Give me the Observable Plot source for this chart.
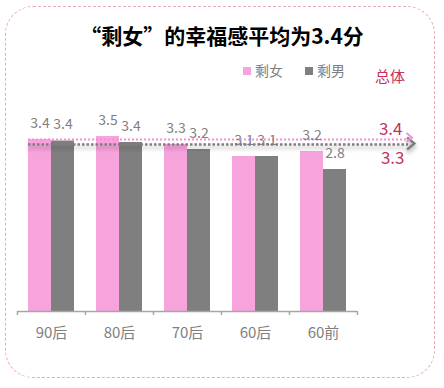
<!DOCTYPE html>
<html><head><meta charset="utf-8">
<script src="https://cdn.jsdelivr.net/npm/d3@7"></script>
<script src="https://cdn.jsdelivr.net/npm/@observablehq/plot@0.6"></script>
<style>
body{margin:0;background:#fff;font-family:"Noto Sans CJK SC","Noto Sans",sans-serif;}
#wrap{position:relative;width:444px;height:388px;overflow:hidden;background:#fff;}
#border{position:absolute;left:5px;top:6px;width:428px;height:370px;border:1.5px dashed #eba8c3;border-radius:28px;}
#title{position:absolute;left:0;top:20px;width:444px;text-align:center;font-size:21px;font-weight:bold;color:#000;line-height:30px;}
.lg{position:absolute;font-size:14px;color:#7f7f7f;line-height:16px;}
.sw{position:absolute;width:8px;height:8px;}
#total{position:absolute;left:375px;top:66px;font-size:15px;color:#c7325f;line-height:20px;}
#chart{position:absolute;left:0;top:90px;}
.shadow{filter:drop-shadow(0px 3px 2px rgba(0,0,0,0.35));}
</style>
</head><body>
<div id="wrap">
  <div id="border"></div>
  <div id="title">“剩女”的幸福感平均为3.4分</div>
  <div id="legend"></div>
  <div id="total">总体</div>
  <div id="chart"></div>
</div>
<script>
const categories = ["90后","80后","70后","60后","60前"];
const seriesNames = ["剩女","剩男"];
const female = [3.44, 3.50, 3.34, 3.10, 3.20];
const male = [3.41, 3.38, 3.24, 3.10, 2.84];
const overall = [3.44, 3.34]; // 剩女, 剩男
const colors = ["#f7a3dc", "#7f7f7f"];
const lineColors = ["#f58fd3", "#7f7f7f"];

const fmt = d3.format(".1f");
const rows = categories.map((c, i) => ({category: c, female: female[i], male: male[i]}));

// legend
const legend = document.getElementById("legend");
const lgPos = [243, 305];
seriesNames.forEach((n, i) => {
  const sw = document.createElement("div");
  sw.className = "sw"; sw.style.left = lgPos[i] + "px"; sw.style.top = "67px"; sw.style.background = colors[i];
  legend.appendChild(sw);
  const t = document.createElement("div");
  t.className = "lg"; t.style.left = (lgPos[i] + 12) + "px"; t.style.top = "62px"; t.textContent = n;
  legend.appendChild(t);
});

const chevron = {
  draw(ctx, size) {
    const r = Math.sqrt(size / Math.PI);
    ctx.moveTo(-r * 0.9, -r);
    ctx.lineTo(r * 0.3, 0);
    ctx.lineTo(-r * 0.9, r);
  }
};

const chart = Plot.plot({
  width: 444,
  height: 260,
  marginLeft: 17,
  marginRight: 32,
  marginTop: 21,
  marginBottom: 39,
  style: {fontFamily: "'Noto Sans CJK SC', 'Noto Sans', sans-serif", color: "#7f7f7f", background: "transparent", overflow: "visible"},
  x: {domain: categories, range: [17, 357], padding: 0, axis: null, label: null},
  y: {domain: [0, 4], axis: null},
  marks: [
    Plot.barY(rows, {x: "category", y: "female", fill: colors[0], insetLeft: 11, insetRight: 34}),
    Plot.barY(rows, {x: "category", y: "male", fill: colors[1], insetLeft: 34, insetRight: 11}),
    Plot.ruleY([0], {stroke: "#a6a6a6", strokeWidth: 1.5, insetRight: 55}),
    Plot.ruleX(categories, {x: d => d, y1: 0, y2: -0.08, dx: -34, stroke: "#a6a6a6", strokeWidth: 1.5}),
    Plot.ruleX([categories[categories.length - 1]], {x: d => d, y1: 0, y2: -0.08, dx: 34, stroke: "#a6a6a6", strokeWidth: 1.5}),
    Plot.axisX({tickSize: 0, tickPadding: 16, fontSize: 15, fill: "#7f7f7f", label: null}),
    Plot.ruleY([overall[1]], {stroke: lineColors[1], strokeWidth: 2.5, strokeDasharray: "2.5,2", insetLeft: 11, insetRight: 4, className: "shadow"}),
    Plot.dot([overall[1]], {y: d => d, frameAnchor: "right", dx: 0, dy: -1, symbol: chevron, r: 6, stroke: lineColors[1], fill: "none", strokeWidth: 2.5, className: "shadow"}),
    Plot.ruleY([overall[0]], {stroke: lineColors[0], strokeWidth: 2, strokeDasharray: "2,2", insetLeft: 11, insetRight: 4}),
    Plot.dot([overall[0]], {y: d => d, frameAnchor: "right", dx: -2, dy: -2, symbol: chevron, r: 4.5, stroke: lineColors[0], fill: "none", strokeWidth: 2}),
    Plot.text(rows, {x: "category", y: "female", text: d => fmt(d.female), dx: -11.5, dy: -16, fill: "#7f7f7f", fontSize: 14}),
    Plot.text(rows, {x: "category", y: "male", text: d => fmt(d.male), dx: 11.5, dy: -16, fill: "#7f7f7f", fontSize: 14}),
    Plot.text([overall[0]], {y: d => d, text: d => fmt(d), frameAnchor: "right", textAnchor: "end", dx: -10, dy: -10, fill: "#c7325f", fontSize: 17}),
    Plot.text([overall[1]], {y: d => d, text: d => fmt(d), frameAnchor: "right", textAnchor: "end", dx: -8, dy: 14, fill: "#c7325f", fontSize: 17})
  ]
});
document.getElementById("chart").appendChild(chart);
</script>
</body></html>
